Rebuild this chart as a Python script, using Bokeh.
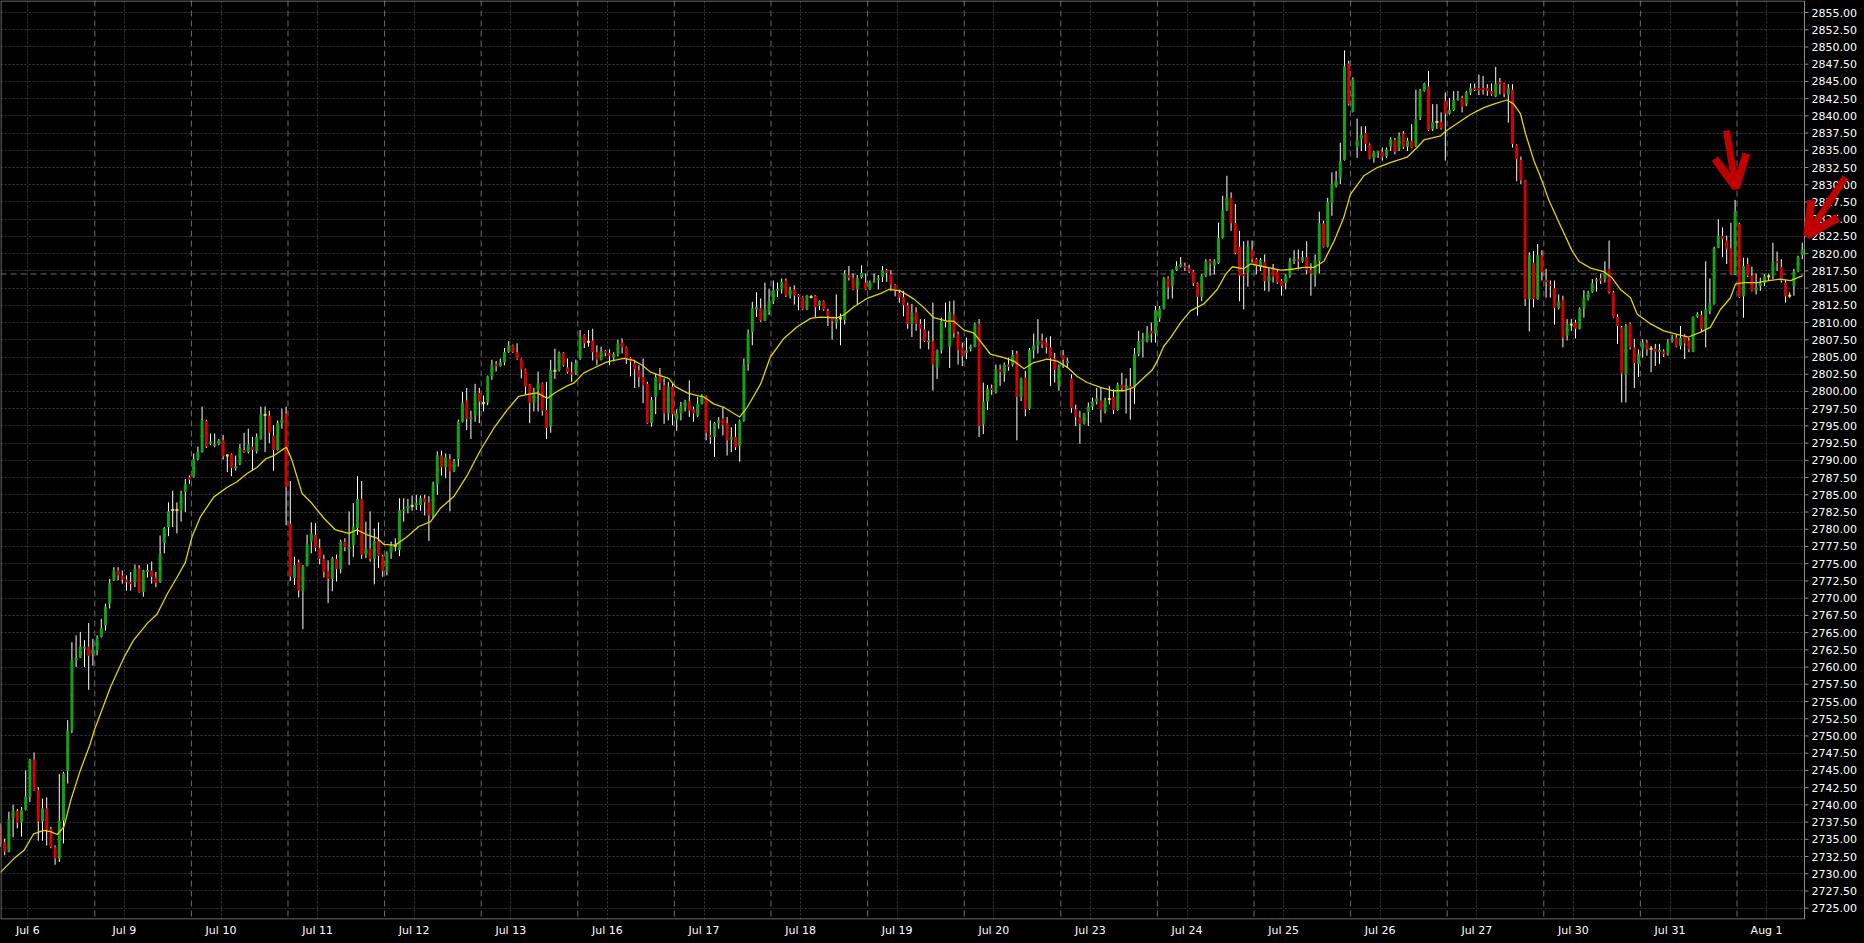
from bokeh.plotting import figure
from bokeh.models import (ColumnDataSource, Range1d, FixedTicker, CustomJSTickFormatter,
                          Grid, Span, BoxAnnotation, Arrow, OpenHead, GlobalInlineStyleSheet)
from bokeh.core.properties import value
from bokeh.embed import file_html
from bokeh.resources import INLINE

# ---------------- data (hourly bars) ----------------
day_labels = ["Jul 6", "Jul 9", "Jul 10", "Jul 11", "Jul 12", "Jul 13", "Jul 16", "Jul 17",
              "Jul 18", "Jul 19", "Jul 20", "Jul 23", "Jul 24", "Jul 25", "Jul 26", "Jul 27",
              "Jul 30", "Jul 31", "Aug 1"]
bars_per_day = 23

opens = [
    2737.0, 2734.6, 2733.2, 2738.1, 2739.1, 2737.4, 2739.3, 2741.1, 2746.6, 2742.2,
    2737.6, 2739.5, 2736.5, 2733.9, 2732.2, 2737.7, 2744.9, 2750.8, 2761.1, 2761.4,
    2762.8, 2763.0, 2761.9, 2762.4, 2764.4, 2766.0, 2769.2, 2772.6, 2774.0, 2773.3,
    2772.7, 2772.3, 2772.3, 2774.3, 2770.9, 2773.9, 2774.0, 2773.0, 2772.3, 2778.0,
    2780.3, 2782.8, 2782.8, 2782.8, 2785.4, 2787.5, 2787.6, 2790.2, 2791.2, 2795.7,
    2792.5, 2792.2, 2792.4, 2792.9, 2790.7, 2790.9, 2788.9, 2789.5, 2791.5, 2791.2,
    2792.0, 2791.3, 2793.1, 2796.6, 2796.5, 2793.6, 2791.5, 2795.4, 2796.8, 2780.8,
    2772.9, 2775.2, 2771.1, 2774.7, 2778.2, 2779.2, 2777.3, 2775.7, 2773.9, 2772.8,
    2775.7, 2774.2, 2778.2, 2777.2, 2777.7, 2780.2, 2784.4, 2776.3, 2777.2, 2775.7,
    2778.3, 2776.1, 2773.9, 2776.6, 2777.6, 2777.0, 2782.7, 2783.0, 2783.4, 2783.5,
    2783.5, 2784.5, 2783.9, 2782.0, 2786.5, 2790.7, 2789.0, 2790.2, 2788.4, 2790.2,
    2795.6, 2798.7, 2796.1, 2796.5, 2799.8, 2798.3, 2798.4, 2802.2, 2803.9, 2803.7,
    2804.2, 2805.7, 2806.7, 2805.7, 2804.7, 2803.2, 2801.0, 2798.4, 2800.2, 2801.2,
    2797.3, 2794.9, 2803.0, 2803.1, 2805.6, 2803.5, 2802.7, 2802.7, 2804.7, 2808.2,
    2807.2, 2807.4, 2805.7, 2804.6, 2805.8, 2805.6, 2804.9, 2805.4, 2807.1, 2806.4,
    2804.9, 2804.1, 2803.1, 2802.1, 2801.1, 2795.4, 2799.2, 2802.2, 2800.9, 2796.8,
    2800.7, 2795.9, 2796.8, 2797.7, 2798.6, 2797.4, 2796.5, 2798.2, 2799.3, 2793.6,
    2793.4, 2795.4, 2796.1, 2795.4, 2793.0, 2793.4, 2792.1, 2795.8, 2804.0, 2808.6,
    2811.9, 2812.1, 2810.3, 2811.6, 2813.1, 2814.7, 2814.8, 2816.1, 2813.9, 2814.8,
    2814.0, 2813.7, 2811.9, 2813.7, 2813.9, 2812.4, 2813.1, 2811.7, 2810.7, 2810.0,
    2810.6, 2810.4, 2816.9, 2816.5, 2814.8, 2816.6, 2815.8, 2814.8, 2815.9, 2816.2,
    2816.6, 2817.6, 2817.0, 2815.5, 2814.3, 2813.7, 2812.5, 2809.8, 2811.5, 2809.8,
    2809.0, 2807.2, 2807.3, 2803.5, 2806.0, 2810.3, 2806.5, 2811.2, 2808.3, 2806.4,
    2805.6, 2806.2, 2806.5, 2809.8, 2795.2, 2798.5, 2800.5, 2799.9, 2803.2, 2802.6,
    2803.9, 2803.9, 2805.5, 2799.2, 2802.0, 2797.5, 2806.0, 2806.7, 2807.4, 2807.1,
    2806.4, 2804.8, 2800.8, 2805.3, 2804.2, 2801.9, 2797.4, 2796.2, 2795.3, 2797.0,
    2797.8, 2798.5, 2798.7, 2797.1, 2798.9, 2799.2, 2797.3, 2801.0, 2800.5, 2800.8,
    2800.5, 2805.4, 2807.3, 2807.3, 2808.8, 2808.4, 2810.6, 2812.0, 2816.4, 2815.3,
    2817.6, 2818.2, 2818.2, 2817.9, 2817.4, 2815.7, 2813.7, 2816.8, 2818.9, 2818.2,
    2818.6, 2822.3, 2826.3, 2828.1, 2824.4, 2821.0, 2817.0, 2817.2, 2820.6, 2819.2,
    2818.1, 2818.8, 2816.0, 2817.7, 2817.4, 2816.1, 2815.7, 2816.8, 2818.9, 2819.1,
    2818.9, 2819.5, 2817.6, 2816.8, 2818.9, 2824.4, 2821.0, 2827.4, 2829.8, 2830.9,
    2833.6, 2847.6, 2840.6, 2835.4, 2836.6, 2837.5, 2835.8, 2833.8, 2834.7, 2834.8,
    2834.1, 2835.5, 2836.5, 2835.2, 2837.4, 2835.5, 2836.4, 2835.6, 2839.7, 2843.6,
    2844.3, 2838.1, 2839.1, 2839.1, 2842.2, 2840.3, 2840.8, 2842.4, 2842.6, 2841.7,
    2843.4, 2844.0, 2844.0, 2844.0, 2844.0, 2843.6, 2842.8, 2844.9, 2844.7, 2843.1,
    2843.8, 2835.8, 2833.6, 2830.6, 2813.4, 2818.7, 2813.4, 2819.8, 2816.2, 2815.6,
    2815.0, 2812.1, 2813.3, 2808.1, 2809.7, 2810.0, 2809.1, 2812.0, 2813.4, 2814.4,
    2816.0, 2816.4, 2816.3, 2817.8, 2814.4, 2810.8, 2809.3, 2802.4, 2809.8, 2806.4,
    2804.0, 2806.1, 2807.1, 2806.2, 2806.2, 2805.8, 2805.8, 2805.4, 2807.4, 2807.8,
    2806.6, 2808.1, 2807.4, 2805.8, 2810.9, 2811.1, 2809.1, 2811.7, 2812.7, 2820.9,
    2822.6, 2821.9, 2820.8, 2817.0, 2824.3, 2813.8, 2818.5, 2816.8, 2814.7, 2815.3,
    2815.8, 2816.7, 2816.8, 2818.8, 2818.1, 2815.8, 2813.9, 2815.3, 2817.4, 2819.8,
]
highs = [
    2737.3, 2735.1, 2739.0, 2740.0, 2739.4, 2739.7, 2745.0, 2746.7, 2747.6, 2742.6,
    2740.9, 2741.1, 2736.8, 2734.1, 2744.5, 2744.8, 2752.3, 2763.6, 2764.6, 2765.1,
    2763.9, 2766.4, 2764.1, 2764.6, 2767.0, 2769.2, 2772.8, 2774.5, 2774.5, 2774.0,
    2773.3, 2773.8, 2774.9, 2774.8, 2774.1, 2774.9, 2775.3, 2773.8, 2779.1, 2780.3,
    2783.9, 2785.6, 2783.9, 2785.6, 2787.3, 2787.8, 2791.0, 2792.0, 2797.8, 2795.9,
    2793.9, 2793.9, 2793.1, 2793.7, 2790.9, 2791.0, 2790.7, 2792.4, 2794.0, 2794.6,
    2793.4, 2793.9, 2797.8, 2797.8, 2797.2, 2795.1, 2795.8, 2797.5, 2797.8, 2787.0,
    2776.0, 2775.6, 2774.8, 2779.2, 2781.0, 2780.9, 2778.6, 2776.3, 2775.5, 2776.0,
    2776.3, 2778.5, 2778.7, 2782.6, 2783.8, 2787.7, 2787.0, 2781.1, 2782.6, 2780.1,
    2781.0, 2776.3, 2776.8, 2778.2, 2778.7, 2784.5, 2784.5, 2784.4, 2784.9, 2785.0,
    2784.9, 2785.0, 2784.8, 2786.9, 2791.3, 2791.4, 2791.0, 2790.9, 2790.2, 2795.9,
    2799.9, 2800.5, 2797.2, 2801.1, 2800.5, 2799.4, 2802.3, 2804.6, 2804.4, 2804.8,
    2806.3, 2807.3, 2806.8, 2807.0, 2804.8, 2803.3, 2801.1, 2800.5, 2802.9, 2801.3,
    2801.4, 2804.6, 2806.2, 2805.8, 2805.7, 2804.8, 2804.3, 2804.6, 2808.9, 2808.3,
    2808.9, 2809.1, 2806.7, 2806.5, 2806.0, 2806.1, 2805.7, 2807.5, 2807.7, 2806.5,
    2805.0, 2804.6, 2803.8, 2804.8, 2801.4, 2799.2, 2802.6, 2803.4, 2801.9, 2801.4,
    2801.1, 2797.4, 2798.5, 2798.8, 2801.6, 2797.8, 2799.2, 2799.6, 2799.4, 2795.8,
    2795.6, 2796.3, 2797.7, 2796.3, 2794.8, 2795.3, 2795.9, 2804.8, 2809.0, 2813.0,
    2814.4, 2813.5, 2815.8, 2814.9, 2816.1, 2815.8, 2816.4, 2816.4, 2815.2, 2815.4,
    2814.1, 2813.8, 2814.0, 2814.0, 2814.0, 2813.2, 2813.2, 2812.0, 2810.8, 2814.1,
    2811.3, 2817.6, 2818.2, 2817.1, 2816.9, 2818.3, 2817.1, 2816.1, 2817.1, 2816.9,
    2818.2, 2817.8, 2817.6, 2815.6, 2814.8, 2814.6, 2812.9, 2812.7, 2812.2, 2810.5,
    2810.5, 2808.8, 2812.9, 2806.1, 2810.7, 2812.9, 2813.1, 2813.2, 2808.7, 2807.1,
    2807.8, 2806.8, 2810.0, 2810.5, 2801.3, 2800.9, 2801.0, 2803.9, 2803.9, 2804.2,
    2804.9, 2806.0, 2805.9, 2802.0, 2803.0, 2806.3, 2808.4, 2810.5, 2808.4, 2807.8,
    2808.0, 2805.6, 2803.9, 2806.0, 2804.9, 2802.5, 2798.1, 2797.2, 2796.9, 2798.4,
    2799.1, 2800.5, 2800.5, 2799.1, 2800.8, 2800.3, 2801.3, 2802.7, 2801.9, 2803.4,
    2806.3, 2808.8, 2808.5, 2809.5, 2810.0, 2812.4, 2812.4, 2816.6, 2816.7, 2817.7,
    2818.9, 2819.5, 2818.7, 2818.4, 2817.6, 2815.8, 2817.0, 2819.2, 2819.2, 2819.2,
    2824.5, 2828.4, 2831.3, 2828.9, 2827.2, 2823.3, 2821.8, 2821.9, 2821.9, 2819.4,
    2819.4, 2819.9, 2818.0, 2818.5, 2817.6, 2816.3, 2817.0, 2819.4, 2820.5, 2820.6,
    2820.4, 2821.8, 2818.6, 2819.9, 2826.1, 2824.8, 2828.1, 2831.8, 2832.0, 2836.1,
    2849.5, 2848.0, 2845.6, 2839.6, 2838.5, 2838.5, 2836.0, 2834.9, 2834.9, 2835.4,
    2835.4, 2836.9, 2836.8, 2837.6, 2837.8, 2836.8, 2838.8, 2843.8, 2843.9, 2844.8,
    2846.5, 2841.7, 2841.7, 2840.5, 2843.4, 2842.6, 2843.6, 2843.6, 2842.9, 2843.6,
    2844.7, 2844.7, 2846.0, 2845.8, 2844.6, 2844.7, 2847.1, 2845.5, 2844.8, 2844.6,
    2844.6, 2835.9, 2834.1, 2830.7, 2820.2, 2820.4, 2821.4, 2820.5, 2817.8, 2816.1,
    2816.1, 2814.1, 2813.9, 2810.5, 2810.5, 2810.4, 2812.2, 2814.7, 2814.6, 2816.3,
    2816.5, 2817.1, 2818.9, 2821.9, 2814.6, 2811.2, 2809.5, 2809.8, 2810.0, 2807.6,
    2806.1, 2807.6, 2807.5, 2806.6, 2806.9, 2806.9, 2806.1, 2807.6, 2808.2, 2808.3,
    2809.5, 2808.3, 2807.8, 2810.9, 2811.5, 2811.7, 2818.9, 2816.4, 2821.0, 2825.0,
    2823.8, 2822.6, 2824.5, 2827.8, 2824.5, 2819.4, 2819.4, 2818.1, 2817.1, 2816.5,
    2817.0, 2817.1, 2821.6, 2820.3, 2819.2, 2816.2, 2814.4, 2817.8, 2819.7, 2821.6,
]
lows = [
    2733.9, 2732.7, 2733.1, 2735.3, 2736.6, 2735.4, 2739.2, 2740.4, 2742.0, 2734.8,
    2734.8, 2734.1, 2733.7, 2731.3, 2731.7, 2734.4, 2743.1, 2750.4, 2760.0, 2761.3,
    2760.0, 2756.7, 2760.2, 2761.7, 2764.3, 2765.3, 2768.5, 2772.5, 2772.6, 2772.1,
    2771.1, 2771.1, 2771.6, 2770.8, 2770.2, 2773.0, 2772.1, 2771.6, 2772.2, 2776.5,
    2779.0, 2780.3, 2779.4, 2781.1, 2782.5, 2786.6, 2787.5, 2790.0, 2791.1, 2791.8,
    2792.2, 2791.9, 2792.2, 2790.1, 2788.3, 2787.7, 2788.5, 2789.3, 2791.1, 2791.0,
    2788.5, 2791.0, 2793.0, 2791.2, 2792.5, 2788.5, 2791.4, 2794.6, 2780.6, 2772.5,
    2771.9, 2770.1, 2765.5, 2774.6, 2776.5, 2776.8, 2774.9, 2773.0, 2769.3, 2771.0,
    2772.4, 2773.6, 2776.8, 2774.8, 2776.0, 2779.2, 2775.7, 2775.8, 2775.3, 2772.0,
    2774.4, 2773.1, 2773.3, 2775.7, 2776.8, 2776.1, 2781.1, 2782.3, 2782.7, 2782.8,
    2782.7, 2782.0, 2778.3, 2781.6, 2785.0, 2787.8, 2787.4, 2782.6, 2788.3, 2789.1,
    2795.5, 2794.4, 2793.1, 2795.6, 2795.4, 2797.1, 2798.0, 2801.7, 2802.9, 2803.6,
    2803.8, 2805.6, 2805.6, 2804.6, 2801.9, 2799.5, 2795.4, 2797.1, 2797.1, 2796.5,
    2793.1, 2794.0, 2801.8, 2802.9, 2803.6, 2802.6, 2801.4, 2802.4, 2804.6, 2806.3,
    2806.5, 2804.5, 2803.8, 2804.5, 2805.1, 2803.8, 2804.5, 2805.1, 2805.5, 2804.0,
    2802.2, 2800.5, 2800.6, 2798.3, 2795.3, 2794.9, 2796.7, 2800.2, 2795.3, 2795.8,
    2795.1, 2794.3, 2795.8, 2797.1, 2796.3, 2795.6, 2796.3, 2798.1, 2792.9, 2792.4,
    2790.5, 2794.6, 2793.6, 2790.7, 2791.2, 2791.5, 2789.8, 2795.6, 2803.0, 2806.7,
    2810.8, 2810.1, 2810.2, 2811.1, 2812.7, 2813.7, 2814.2, 2813.7, 2813.5, 2812.6,
    2811.8, 2811.8, 2811.8, 2813.5, 2810.8, 2811.8, 2811.7, 2809.5, 2807.5, 2809.1,
    2806.7, 2809.7, 2816.1, 2814.7, 2812.7, 2816.4, 2814.7, 2814.7, 2815.8, 2814.8,
    2815.9, 2815.9, 2814.6, 2813.8, 2812.9, 2810.9, 2809.1, 2807.9, 2808.8, 2806.2,
    2807.2, 2806.1, 2800.1, 2801.8, 2805.5, 2809.3, 2803.4, 2807.8, 2803.9, 2803.7,
    2804.7, 2805.8, 2806.4, 2793.4, 2793.8, 2797.3, 2799.5, 2799.7, 2800.8, 2801.4,
    2803.0, 2803.6, 2792.9, 2798.6, 2796.4, 2797.3, 2804.8, 2805.5, 2806.3, 2805.5,
    2800.8, 2801.3, 2800.1, 2803.4, 2803.4, 2796.9, 2795.0, 2792.4, 2795.2, 2795.0,
    2797.3, 2798.1, 2795.5, 2796.8, 2798.1, 2796.7, 2797.2, 2800.1, 2796.8, 2795.9,
    2798.2, 2805.1, 2804.9, 2807.1, 2807.1, 2807.1, 2810.1, 2811.9, 2813.4, 2813.5,
    2817.5, 2818.0, 2817.5, 2817.2, 2815.3, 2811.0, 2813.1, 2816.6, 2816.8, 2817.0,
    2818.5, 2822.2, 2826.2, 2823.3, 2819.9, 2813.1, 2811.9, 2815.2, 2818.7, 2817.0,
    2817.5, 2814.6, 2814.5, 2815.8, 2815.6, 2813.9, 2814.8, 2816.5, 2818.5, 2817.7,
    2818.7, 2817.0, 2813.9, 2815.2, 2817.1, 2820.9, 2820.9, 2825.5, 2829.6, 2830.1,
    2833.5, 2841.5, 2840.5, 2833.9, 2834.9, 2834.9, 2833.7, 2833.2, 2833.9, 2833.5,
    2833.9, 2834.9, 2834.4, 2834.9, 2835.2, 2834.9, 2835.3, 2835.5, 2839.4, 2843.5,
    2837.8, 2837.8, 2838.1, 2838.0, 2833.5, 2840.2, 2840.7, 2842.2, 2840.5, 2841.4,
    2843.0, 2843.6, 2843.0, 2843.1, 2842.9, 2842.9, 2842.7, 2843.1, 2842.7, 2839.0,
    2835.4, 2830.5, 2830.1, 2812.4, 2808.7, 2812.2, 2813.3, 2816.1, 2813.6, 2813.6,
    2809.7, 2811.9, 2806.4, 2807.4, 2808.8, 2807.7, 2809.0, 2810.7, 2813.2, 2814.3,
    2814.5, 2815.6, 2815.8, 2814.2, 2810.7, 2806.9, 2798.4, 2798.4, 2806.1, 2800.5,
    2802.1, 2804.9, 2805.2, 2802.8, 2803.7, 2804.0, 2805.0, 2805.2, 2807.1, 2806.4,
    2806.1, 2804.7, 2805.7, 2805.7, 2810.7, 2808.6, 2806.4, 2811.2, 2812.6, 2820.8,
    2819.5, 2818.5, 2817.0, 2816.9, 2813.6, 2810.7, 2816.6, 2814.5, 2814.1, 2814.6,
    2815.3, 2816.1, 2816.3, 2817.5, 2815.8, 2812.9, 2813.6, 2813.9, 2817.3, 2819.2,
]
closes = [
    2734.4, 2733.2, 2738.0, 2739.1, 2737.4, 2739.3, 2741.2, 2746.6, 2742.1, 2737.6,
    2739.5, 2736.4, 2733.9, 2732.2, 2737.7, 2744.6, 2750.8, 2761.1, 2761.3, 2763.0,
    2762.9, 2761.6, 2762.6, 2764.3, 2765.7, 2768.8, 2772.2, 2774.0, 2773.3, 2772.7,
    2772.3, 2772.1, 2774.3, 2770.9, 2774.0, 2774.0, 2773.1, 2772.2, 2776.4, 2780.2,
    2782.6, 2782.8, 2782.8, 2785.1, 2786.6, 2787.2, 2790.2, 2791.2, 2795.8, 2792.0,
    2792.7, 2792.3, 2792.9, 2790.6, 2790.7, 2788.9, 2789.1, 2791.8, 2791.2, 2792.3,
    2791.5, 2793.4, 2796.7, 2796.6, 2794.0, 2791.5, 2795.4, 2795.9, 2786.1, 2773.1,
    2774.8, 2771.1, 2774.7, 2777.9, 2779.4, 2777.3, 2775.7, 2773.8, 2772.8, 2775.8,
    2774.2, 2778.2, 2777.4, 2777.4, 2780.4, 2784.4, 2776.3, 2777.2, 2775.7, 2778.3,
    2776.1, 2773.9, 2776.6, 2777.6, 2777.6, 2782.8, 2782.8, 2783.4, 2783.4, 2783.7,
    2784.5, 2783.9, 2782.0, 2786.5, 2790.7, 2789.0, 2790.4, 2788.4, 2789.9, 2795.6,
    2798.4, 2796.0, 2796.2, 2799.8, 2798.5, 2798.3, 2802.2, 2803.9, 2803.7, 2804.2,
    2805.7, 2806.7, 2805.7, 2804.7, 2803.2, 2800.7, 2798.3, 2800.0, 2801.2, 2797.2,
    2794.7, 2803.1, 2803.0, 2805.6, 2803.8, 2802.8, 2802.5, 2804.1, 2808.0, 2807.0,
    2807.2, 2805.7, 2804.6, 2805.8, 2805.6, 2805.1, 2805.4, 2807.0, 2806.4, 2804.8,
    2804.3, 2803.2, 2802.1, 2800.9, 2795.4, 2798.8, 2802.1, 2801.2, 2796.8, 2800.7,
    2796.7, 2796.8, 2797.9, 2798.6, 2797.2, 2796.8, 2798.2, 2799.2, 2794.0, 2793.4,
    2795.4, 2795.8, 2795.1, 2792.9, 2793.4, 2791.9, 2795.7, 2803.9, 2808.4, 2812.1,
    2812.3, 2810.3, 2812.0, 2813.1, 2814.7, 2814.8, 2815.9, 2813.9, 2814.8, 2813.9,
    2813.7, 2811.9, 2813.9, 2813.7, 2812.2, 2813.1, 2811.9, 2811.0, 2810.2, 2810.5,
    2810.6, 2817.1, 2816.5, 2814.8, 2816.5, 2817.2, 2814.8, 2815.9, 2816.0, 2816.4,
    2817.6, 2817.2, 2815.5, 2814.7, 2813.6, 2812.5, 2809.8, 2811.5, 2809.8, 2809.1,
    2807.3, 2807.4, 2803.9, 2806.0, 2810.2, 2810.1, 2811.5, 2808.5, 2806.0, 2805.1,
    2806.0, 2806.5, 2809.8, 2795.0, 2798.5, 2800.4, 2800.2, 2803.2, 2802.8, 2803.9,
    2803.6, 2805.3, 2799.2, 2801.9, 2797.4, 2806.0, 2806.7, 2807.4, 2806.8, 2806.4,
    2804.8, 2803.1, 2803.5, 2804.6, 2804.4, 2797.6, 2796.3, 2795.3, 2796.8, 2797.8,
    2798.5, 2799.0, 2797.3, 2798.7, 2798.9, 2797.3, 2801.0, 2800.5, 2800.8, 2800.5,
    2805.4, 2807.3, 2807.5, 2808.5, 2808.4, 2811.8, 2812.0, 2816.4, 2815.1, 2817.6,
    2818.2, 2818.4, 2818.0, 2817.4, 2815.7, 2813.7, 2816.8, 2818.9, 2818.6, 2818.9,
    2822.3, 2826.3, 2828.2, 2824.4, 2820.1, 2816.8, 2816.8, 2821.0, 2819.2, 2818.2,
    2819.1, 2816.0, 2816.8, 2816.6, 2815.8, 2815.3, 2816.8, 2818.9, 2819.2, 2818.9,
    2819.5, 2817.6, 2817.1, 2819.1, 2824.4, 2821.0, 2827.5, 2830.1, 2830.6, 2833.4,
    2847.2, 2841.7, 2845.3, 2836.5, 2837.3, 2835.9, 2833.8, 2834.7, 2834.8, 2834.0,
    2835.1, 2836.6, 2834.8, 2837.1, 2835.5, 2836.4, 2835.4, 2839.5, 2843.6, 2844.7,
    2837.9, 2839.1, 2839.1, 2838.2, 2840.3, 2840.9, 2842.3, 2842.6, 2841.3, 2843.4,
    2844.0, 2843.8, 2843.7, 2843.8, 2843.6, 2843.1, 2844.7, 2844.6, 2843.2, 2844.0,
    2835.9, 2833.7, 2830.6, 2813.4, 2819.8, 2813.4, 2819.8, 2817.3, 2815.9, 2815.3,
    2812.1, 2813.1, 2807.8, 2809.8, 2809.7, 2809.1, 2812.0, 2813.6, 2814.3, 2815.7,
    2816.2, 2816.1, 2817.3, 2814.4, 2810.8, 2809.5, 2802.6, 2809.5, 2806.4, 2804.1,
    2805.4, 2807.1, 2806.1, 2806.2, 2805.8, 2806.0, 2805.4, 2807.1, 2807.6, 2806.5,
    2807.8, 2807.0, 2806.1, 2810.8, 2811.2, 2809.1, 2811.9, 2812.8, 2820.8, 2822.6,
    2822.1, 2820.7, 2817.1, 2826.1, 2813.7, 2818.2, 2816.8, 2814.6, 2815.1, 2815.7,
    2816.8, 2816.7, 2818.8, 2818.7, 2816.1, 2813.8, 2813.9, 2817.4, 2819.5, 2820.6,
]

# moving average (yellow line), read at bar positions
ma_x = [0, 3.2, 5.6, 7.9, 10.3, 11.9, 13.5, 15.1, 16.7, 19.0,
        21.4, 22.2, 23.8, 26.2, 29.4, 31.7, 34.9, 37.3, 39.7, 42.1,
        44.0, 45.6, 47.6, 50.8, 54.0, 56.3, 58.7, 61.1, 63.1, 65.1,
        67.5, 68.1, 69.4, 71.8, 73.8, 77.0, 79.8, 82.9, 84.9, 87.3,
        89.7, 91.3, 94.0, 96.8, 99.6, 102.4, 104.8, 108.0, 111.2, 114.3,
        117.5, 120.6, 123.4, 125.8, 127.8, 130.2, 132.5, 134.9, 136.5, 138.9,
        141.3, 144.4, 148.4, 150.8, 152.8, 154.8, 157.1, 159.1, 160.7, 163.5,
        165.9, 167.5, 169.8, 172.2, 174.6, 176.0, 177.8, 181.0, 183.3, 186.5,
        189.7, 192.9, 195.2, 199.2, 200.8, 203.2, 206.3, 209.5, 211.5, 214.3,
        217.5, 219.8, 222.2, 225.4, 227.0, 229.4, 231.7, 233.3, 235.7, 238.9,
        241.3, 243.7, 246.0, 249.2, 251.6, 254.0, 256.3, 258.7, 261.9, 265.0,
        267.5, 269.8, 272.2, 274.2, 275.4, 277.0, 278.6, 281.0, 283.3, 286.5,
        289.7, 291.7, 293.3, 296.0, 297.6, 300.8, 304.8, 307.1, 310.3, 312.7,
        315.1, 317.5, 319.8, 321.4, 324.6, 327.8, 330.9, 334.9, 337.3, 338.9,
        342.9, 344.4, 346.8, 350.0, 353.2, 355.5, 358.7, 360.3, 361.9, 363.1,
        365.1, 366.7, 368.7, 371.4, 374.2, 375.8, 378.6, 381.7, 383.7, 385.7,
        388.1, 389.7, 392.9, 396.0, 399.2, 401.9, 404.8, 407.1, 409.5, 411.9,
        413.1, 415.1, 418.3, 421.0, 423.8, 426.2, 429.1]
ma_y = [2730.2, 2732.2, 2733.4, 2735.8, 2736.3, 2736.1, 2735.7, 2736.8, 2740.6, 2745.0,
        2748.9, 2750.6, 2753.2, 2757.1, 2761.4, 2763.9, 2766.3, 2767.7, 2770.6, 2773.1,
        2775.2, 2778.9, 2781.8, 2784.7, 2786.1, 2786.9, 2788.1, 2789.0, 2790.2, 2790.7,
        2791.7, 2791.9, 2790.0, 2785.2, 2784.0, 2781.6, 2779.9, 2779.4, 2779.9, 2779.2,
        2778.7, 2777.8, 2777.7, 2778.9, 2780.4, 2781.1, 2783.1, 2784.8, 2787.9, 2791.5,
        2794.7, 2797.3, 2799.3, 2799.6, 2799.8, 2799.0, 2800.0, 2800.8, 2801.2, 2802.7,
        2803.4, 2804.3, 2804.8, 2804.5, 2803.8, 2802.8, 2802.3, 2801.9, 2800.7, 2799.8,
        2799.4, 2799.2, 2798.2, 2797.7, 2796.8, 2796.3, 2797.7, 2801.1, 2805.0, 2807.7,
        2809.4, 2810.6, 2810.8, 2810.7, 2811.1, 2812.3, 2813.5, 2814.2, 2814.8, 2814.6,
        2813.4, 2812.2, 2810.7, 2810.2, 2810.2, 2808.9, 2808.5, 2807.3, 2805.4, 2804.9,
        2804.4, 2803.3, 2804.2, 2804.7, 2804.4, 2803.5, 2802.2, 2801.3, 2800.6, 2800.1,
        2800.1, 2800.6, 2802.0, 2803.1, 2804.4, 2806.6, 2807.8, 2810.0, 2811.7, 2812.7,
        2814.8, 2817.0, 2818.1, 2817.8, 2818.5, 2818.1, 2817.6, 2817.7, 2818.0, 2818.0,
        2818.9, 2821.8, 2825.2, 2828.6, 2831.3, 2832.5, 2833.2, 2834.0, 2835.4, 2836.5,
        2837.1, 2837.9, 2838.9, 2840.2, 2841.2, 2841.7, 2842.3, 2841.7, 2840.3, 2837.4,
        2833.5, 2831.1, 2827.7, 2824.1, 2820.4, 2818.9, 2817.9, 2817.4, 2816.5, 2814.8,
        2813.6, 2811.2, 2809.8, 2808.8, 2808.3, 2807.9, 2808.6, 2809.3, 2811.9, 2813.6,
        2815.6, 2815.8, 2815.8, 2816.1, 2816.3, 2816.1, 2816.8]

price_ticks = [2725 + 2.5 * k for k in range(53)]      # 2725.00 ... 2855.00
marker_price = 2817.05                                  # horizontal dashed line

# hand-drawn red arrows (bar index, price)
arrow_x0 = [410.95, 439.29]
arrow_y0 = [2837.87, 2831.10]
arrow_x1 = [413.17, 430.17]
arrow_y1 = [2829.56, 2822.63]

# ---------------- layout ----------------
W, H = 1864, 943
AXIS_W, AXIS_H = 60, 24
BAR_PX = 4.2            # pixels per hourly bar
PX_PER_PT = 6.89        # pixels per index point
FRAME_H = H - AXIS_H

x_max = W / BAR_PX
x_edge = (W - AXIS_W) / BAR_PX
y_top = price_ticks[-1] + 12 / PX_PER_PT
y_bot = y_top - FRAME_H / PX_PER_PT

BULL, BEAR, DOJI = "#12a312", "#d60000", "#f2f200"
GRID, SEP, BORDER = "#3a3a3a", "#6c6c6c", "#8c8c8c"
MA_COL, ARROW_COL = "#e2d400", "#bf0000"

p = figure(width=W, height=H, x_range=Range1d(0, x_max), y_range=Range1d(y_bot, y_top),
           y_axis_location=None, toolbar_location=None, output_backend="svg",
           background_fill_color="#000000", border_fill_color="#000000",
           outline_line_color=None, min_border_left=0, min_border_right=0,
           min_border_top=0, min_border_bottom=AXIS_H)
p.stylesheets = [GlobalInlineStyleSheet(
    css="html, body { margin: 0 !important; padding: 0; background: #000000; overflow: hidden; }")]

# time axis
day_ticks = [6.5 + bars_per_day * k for k in range(len(day_labels))]
ax = p.xaxis[0]
ax.ticker = FixedTicker(ticks=day_ticks)
ax.formatter = CustomJSTickFormatter(args=dict(labels=day_labels), code="""
    const k = Math.round((tick - 6.5) / 23);
    return (k >= 0 && k < labels.length) ? labels[k] : '';
""")
ax.axis_line_color = None
ax.major_tick_line_color = None
ax.minor_tick_line_color = None
ax.major_tick_out = 0
ax.major_tick_in = 0
ax.major_label_standoff = 4
ax.major_label_text_color = "#ffffff"
ax.major_label_text_font = "DejaVu Sans"
ax.major_label_text_font_size = "11px"

p.xgrid.grid_line_color = GRID
p.xgrid.grid_line_dash = "2 2"
if len(p.ygrid):
    for g in p.ygrid:
        g.visible = False
ygrid = Grid(dimension=1, ticker=FixedTicker(ticks=price_ticks),
             grid_line_color=GRID, grid_line_dash="2 2")
p.add_layout(ygrid)

# day separators and horizontal marker
for k in range(len(day_labels) - 1):
    p.add_layout(Span(location=22.45 + bars_per_day * k, dimension="height",
                      line_color=SEP, line_dash="6 4", line_width=1, level="underlay"))
p.add_layout(Span(location=marker_price, dimension="width", line_color=SEP,
                  line_dash="6 4", line_width=1, level="underlay"))

# blank price-scale strip
p.add_layout(BoxAnnotation(left=x_edge, fill_color="#000000", fill_alpha=1.0,
                           line_color=None, level="underlay"))

# candles
n = min(len(opens), len(highs), len(lows), len(closes))
idx = list(range(n))
colors = [BULL if c > o else (BEAR if c < o else DOJI) for o, c in zip(opens[:n], closes[:n])]
src = ColumnDataSource(dict(
    x=idx, h=highs[:n], l=lows[:n],
    top=[max(o, c) for o, c in zip(opens[:n], closes[:n])],
    bot=[min(o, c) for o, c in zip(opens[:n], closes[:n])],
    mid=[(o + c) / 2 for o, c in zip(opens[:n], closes[:n])],
    color=colors))
p.segment(x0="x", y0="l", x1="x", y1="h", source=src, line_color="#ffffff", line_width=1)
p.vbar(x="x", width=0.7, top="top", bottom="bot", source=src,
       fill_color="color", line_color=None)
p.rect(x="x", y="mid", width=0.7, height=2, height_units="screen", source=src,
       fill_color="color", line_color=None)

# moving average
p.line(ma_x, ma_y, line_color=MA_COL, line_width=1.3)

# price scale (right)
lab_x = (W - AXIS_W + 7) / BAR_PX
tick_x1 = (W - AXIS_W + 4) / BAR_PX
p.segment(x0=[x_edge] * len(price_ticks), y0=price_ticks,
          x1=[tick_x1] * len(price_ticks), y1=price_ticks, line_color=BORDER, line_width=1)
p.text(x=[lab_x] * len(price_ticks), y=price_ticks, text=["%.2f" % v for v in price_ticks],
       text_color="#ffffff", text_font=value("DejaVu Sans"), text_font_size="11px",
       text_align="left", text_baseline="middle")

# frame border
p.quad(left=[0.5 / BAR_PX], right=[x_edge], bottom=[y_bot + 0.5 / PX_PER_PT],
       top=[y_top - 0.5 / PX_PER_PT], fill_color=None, line_color=BORDER, line_width=1)

# red arrows
asrc = ColumnDataSource(dict(x0=arrow_x0, y0=arrow_y0, x1=arrow_x1, y1=arrow_y1))
p.add_layout(Arrow(end=None, x_start="x0", y_start="y0", x_end="x1", y_end="y1",
                   source=asrc, line_color=ARROW_COL, line_width=7))
p.add_layout(Arrow(end=OpenHead(size=32, line_color=ARROW_COL, line_width=8),
                   x_start="x0", y_start="y0", x_end="x1", y_end="y1",
                   source=asrc, line_alpha=0.0, line_width=1))

open("out.html", "w").write(file_html(p, INLINE))
